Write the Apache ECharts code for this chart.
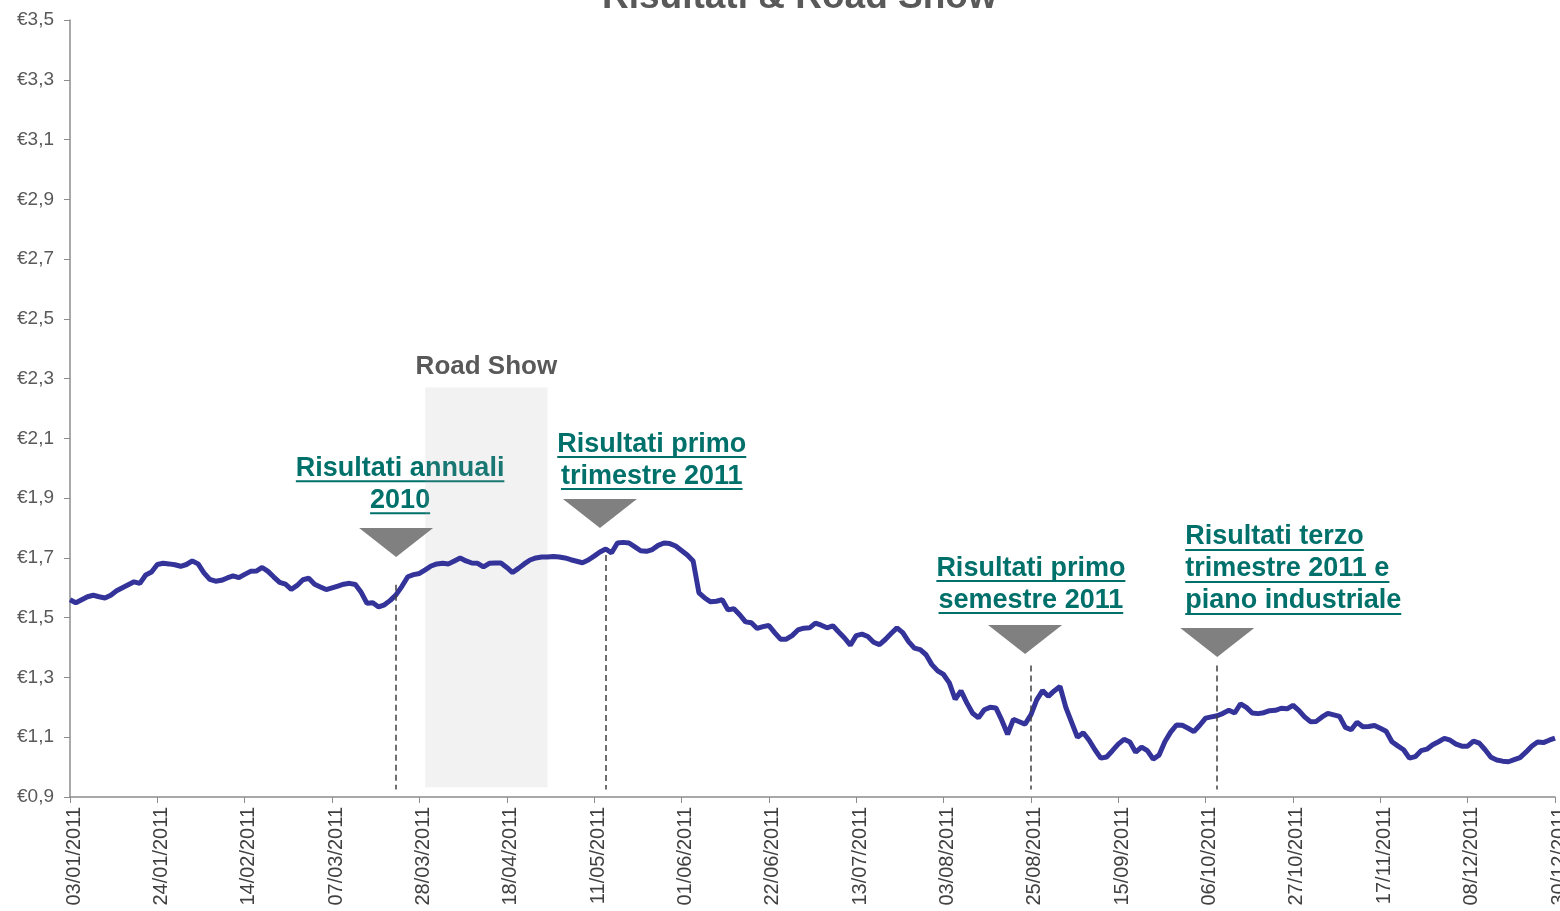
<!DOCTYPE html>
<html>
<head>
<meta charset="utf-8">
<title>Risultati & Road Show</title>
<script src="https://cdn.jsdelivr.net/npm/echarts@6/dist/echarts.min.js"></script>
<style>
  html, body { margin: 0; padding: 0; background: #fff; }
  #chart { width: 1560px; height: 911px; }
</style>
</head>
<body>
<div id="chart"></div>
<script>
// giorni di borsa chiusa nel 2011 (oltre ai weekend)
const holidays = ['2011-04-22', '2011-04-25', '2011-08-15', '2011-12-26']

// prezzo di chiusura giornaliero
const prices = [
  1.56, 1.55, 1.56, 1.57, 1.575, 1.57, 1.566, 1.575, 1.59, 1.60,
  1.61, 1.62, 1.615, 1.643, 1.653, 1.678, 1.682, 1.68, 1.677, 1.672,
  1.678, 1.69, 1.68, 1.65, 1.628, 1.622, 1.625, 1.633, 1.64, 1.634,
  1.645, 1.655, 1.656, 1.668, 1.655, 1.636, 1.618, 1.612, 1.595, 1.608,
  1.627, 1.632, 1.612, 1.603, 1.594, 1.60, 1.606, 1.612, 1.615, 1.611,
  1.585, 1.548, 1.55, 1.536, 1.543, 1.558, 1.577, 1.605, 1.637, 1.644,
  1.648, 1.66, 1.673, 1.68, 1.682, 1.68, 1.69, 1.70, 1.69, 1.683,
  1.682, 1.67, 1.682, 1.683, 1.683, 1.668, 1.651, 1.665, 1.68, 1.693,
  1.70, 1.703, 1.703, 1.705, 1.703, 1.70, 1.694, 1.689, 1.684, 1.693,
  1.706, 1.72, 1.73, 1.717, 1.75, 1.752, 1.75, 1.737, 1.724, 1.722,
  1.728, 1.742, 1.75, 1.748, 1.74, 1.725, 1.71, 1.69, 1.583, 1.566,
  1.553, 1.555, 1.56, 1.526, 1.53, 1.51, 1.486, 1.483, 1.464, 1.47,
  1.474, 1.45, 1.428, 1.428, 1.44, 1.459, 1.465, 1.466, 1.482, 1.475,
  1.466, 1.473, 1.452, 1.432, 1.408, 1.44, 1.445, 1.437, 1.418, 1.41,
  1.427, 1.447, 1.466, 1.45, 1.42, 1.398, 1.393, 1.376, 1.343, 1.322,
  1.31, 1.282, 1.227, 1.255, 1.215, 1.18, 1.165, 1.192, 1.20, 1.198,
  1.157, 1.11, 1.16, 1.152, 1.144, 1.175, 1.225, 1.256, 1.237, 1.255,
  1.27, 1.20, 1.15, 1.10, 1.115, 1.09, 1.058, 1.03, 1.034, 1.055,
  1.077, 1.093, 1.084, 1.05, 1.067, 1.055, 1.027, 1.04, 1.085, 1.117,
  1.141, 1.14, 1.13, 1.119, 1.14, 1.164, 1.168, 1.172, 1.18, 1.19,
  1.181, 1.212, 1.20, 1.181, 1.179, 1.182, 1.189, 1.19, 1.197, 1.195,
  1.207, 1.19, 1.168, 1.152, 1.153, 1.168, 1.18, 1.175, 1.17, 1.133,
  1.125, 1.15, 1.135, 1.136, 1.139, 1.13, 1.12, 1.085, 1.071, 1.058,
  1.03, 1.035, 1.055, 1.06, 1.075, 1.085, 1.096, 1.09, 1.077, 1.07,
  1.07, 1.087, 1.08, 1.058, 1.033, 1.024, 1.02, 1.018, 1.025, 1.032,
  1.05, 1.07, 1.084, 1.082, 1.09, 1.097
]

const yTicks = { min: 0.9, max: 3.5, step: 0.2 }

// eventi
const eventDates = ['22/03/2011', '13/05/2011', '25/08/2011', '10/10/2011']
const eventTexts = [
  ['Risultati annuali', '2010'],
  ['Risultati primo', 'trimestre 2011'],
  ['Risultati primo', 'semestre 2011'],
  ['Risultati terzo', 'trimestre 2011 e', 'piano industriale']
]
const roadShow = ['29/03/2011', '29/04/2011']
const roadShowLabel = 'Road Show'
const title = 'Risultati & Road Show'

// giorni di borsa: lun-ven esclusi i festivi
const pad = (n) => String(n).padStart(2, '0')
const days = []
for (let d = new Date(Date.UTC(2011, 0, 3)); d <= new Date(Date.UTC(2011, 11, 30)); d.setUTCDate(d.getUTCDate() + 1)) {
  const wd = d.getUTCDay()
  const iso = d.toISOString().slice(0, 10)
  if (wd === 0 || wd === 6 || holidays.includes(iso)) continue
  days.push(pad(d.getUTCDate()) + '/' + pad(d.getUTCMonth() + 1) + '/' + d.getUTCFullYear())
}

// layout delle annotazioni (pixel / valori asse y)
const layout = [
  { align: 'center', dx: 4, textY: 2.0, triY: 1.752, lineTop: 1.61, triShift: 0 },
  { align: 'center', dx: 46, textY: 2.081, triY: 1.849, lineTop: 1.71, triShift: -1 },
  { align: 'center', dx: 0, textY: 1.666, triY: 1.427, lineTop: 1.34, triShift: -1 },
  { align: 'left', dx: -32, textY: 1.77, triY: 1.417, lineTop: 1.34, triShift: 0 }
]

const FONT = '"Liberation Sans", Arial, Helvetica, sans-serif'
const TEAL = '#00706B'

const chart = echarts.init(document.getElementById('chart'))

const option = {
  animation: false,
  title: {
    text: title,
    left: 597,
    top: -26,
    textStyle: { fontSize: 37, fontWeight: 'bold', color: '#595959', fontFamily: FONT }
  },
  grid: { left: 70, right: 5, top: 20, bottom: 114, outerBoundsMode: 'none' },
  xAxis: {
    type: 'category',
    data: days,
    boundaryGap: false,
    axisLine: { lineStyle: { color: '#8c8c8c', width: 1.5 } },
    axisTick: { interval: 14, length: 6, lineStyle: { color: '#8c8c8c' } },
    axisLabel: {
      interval: 14,
      rotate: 90,
      margin: 10,
      verticalAlign: 'top',
      lineHeight: 8,
      fontSize: 20,
      color: '#404040',
      fontFamily: FONT
    },
    splitLine: { show: false }
  },
  yAxis: {
    type: 'value',
    min: yTicks.min,
    max: yTicks.max,
    interval: yTicks.step,
    axisLine: { show: true, lineStyle: { color: '#8c8c8c', width: 1.5 } },
    axisTick: { show: true, length: 6, lineStyle: { color: '#8c8c8c' } },
    axisLabel: {
      formatter: (v) => '€' + v.toFixed(1).replace('.', ','),
      fontSize: 19,
      color: '#595959',
      margin: 16,
      fontFamily: FONT
    },
    splitLine: { show: false }
  },
  series: [
    {
      name: 'Prezzo',
      type: 'line',
      data: prices,
      showSymbol: false,
      z: 2,
      lineStyle: { color: '#333399', width: 5 },
      markLine: {
        silent: true,
        symbol: ['none', 'none'],
        label: { show: false },
        lineStyle: { type: [6, 4], color: '#404040', width: 1.5 },
        data: eventDates.map((d, i) => [
          { coord: [d, layout[i].lineTop] },
          { coord: [d, 0.925] }
        ])
      },
      markPoint: {
        silent: true,
        label: { show: false },
        data: eventDates.map((d, i) => ({
          coord: [days[days.indexOf(d) + layout[i].triShift], layout[i].triY],
          symbol: 'triangle',
          symbolRotate: 180,
          symbolSize: [74, 29],
          itemStyle: { color: '#808080' }
        }))
      }
    },
    {
      name: 'Road Show',
      type: 'line',
      data: [],
      z: 3,
      markArea: {
        silent: true,
        itemStyle: { color: 'rgba(170,170,170,0.15)' },
        label: {
          show: true,
          position: 'top',
          distance: 8,
          formatter: roadShowLabel,
          fontSize: 26,
          fontWeight: 'bold',
          color: '#595959',
          fontFamily: FONT
        },
        data: [[{ xAxis: roadShow[0], yAxis: 0.933 }, { xAxis: roadShow[1], yAxis: 2.27 }]]
      }
    }
  ]
}

chart.setOption(option)

// testi sottolineati delle annotazioni
const ctx = document.createElement('canvas').getContext('2d')
const noteFont = 'bold 27px ' + FONT
ctx.font = noteFont
const graphics = []
eventDates.forEach((d, i) => {
  const l = layout[i]
  const [x0, y0] = chart.convertToPixel({ gridIndex: 0 }, [d, l.textY])
  const x = x0 + l.dx
  eventTexts[i].forEach((t, k) => {
    const y = y0 + k * 32
    const w = ctx.measureText(t).width
    const left = l.align === 'center' ? x - w / 2 : x
    graphics.push({
      type: 'text',
      style: { text: t, x: x, y: y, align: l.align, verticalAlign: 'middle', font: noteFont, fill: TEAL }
    })
    graphics.push({
      type: 'rect',
      shape: { x: left, y: y + 12, width: w, height: 2 },
      style: { fill: TEAL }
    })
  })
})
chart.setOption({ graphic: graphics })

window.addEventListener('resize', () => chart.resize())
</script>
</body>
</html>
